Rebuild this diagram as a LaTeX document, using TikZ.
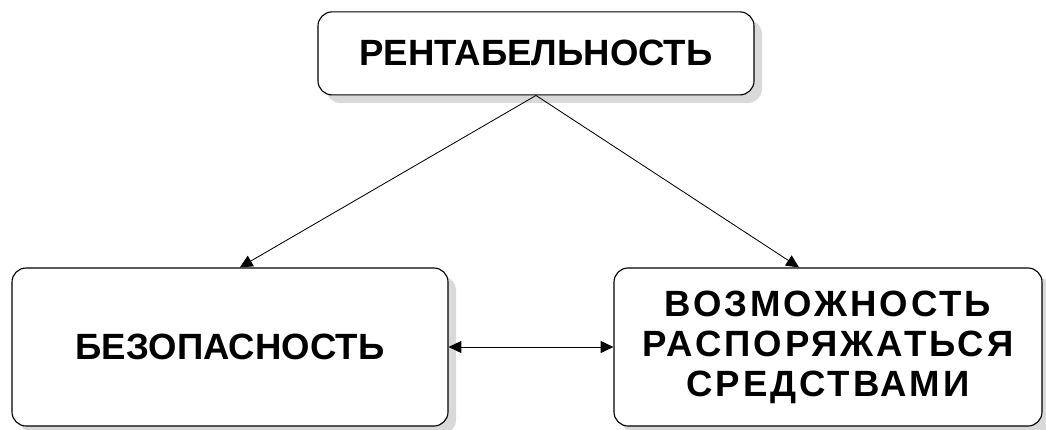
\documentclass[tikz,border=0pt]{standalone}
\usepackage{fontspec}
\setmainfont{Liberation Sans}
\usetikzlibrary{arrows.meta,shadows}

\tikzset{
    block/.style={draw, thick, rounded corners=10pt, fill=white, align=center,
        font=\fontsize{26}{28.5}\selectfont\bfseries,
        drop shadow={shadow xshift=0.2cm, shadow yshift=-0.2cm, fill=gray!30, opacity=1}},
    link/.style={semithick, -{Triangle[length=0.32cm, width=0.3cm]}},
}

\begin{document}
\begin{tikzpicture}
    \useasboundingbox (0,0) rectangle (26.15,10.725);

    \node[block, minimum width=10.9cm, minimum height=2.075cm] (profit) at (13.4,9.39) {РЕНТАБЕЛЬНОСТЬ};
    \node[block, minimum width=10.9cm, minimum height=3.95cm] (safety) at (5.75,2.05) {БЕЗОПАСНОСТЬ};
    \node[block, minimum width=10.7cm, minimum height=3.95cm] (money) at (20.7,2.05)
        {\addfontfeature{LetterSpace=8}ВОЗМОЖНОСТЬ\\ \addfontfeature{LetterSpace=8}РАСПОРЯЖАТЬСЯ\\ \addfontfeature{LetterSpace=8}СРЕДСТВАМИ};

    \draw[link] (profit.south) -- (safety.83);
    \draw[link] (profit.south) -- (money.110);
    \draw[link, {Triangle[length=0.32cm, width=0.3cm]}-{Triangle[length=0.32cm, width=0.3cm]}] (safety.east) -- (money.west);
\end{tikzpicture}
\end{document}
